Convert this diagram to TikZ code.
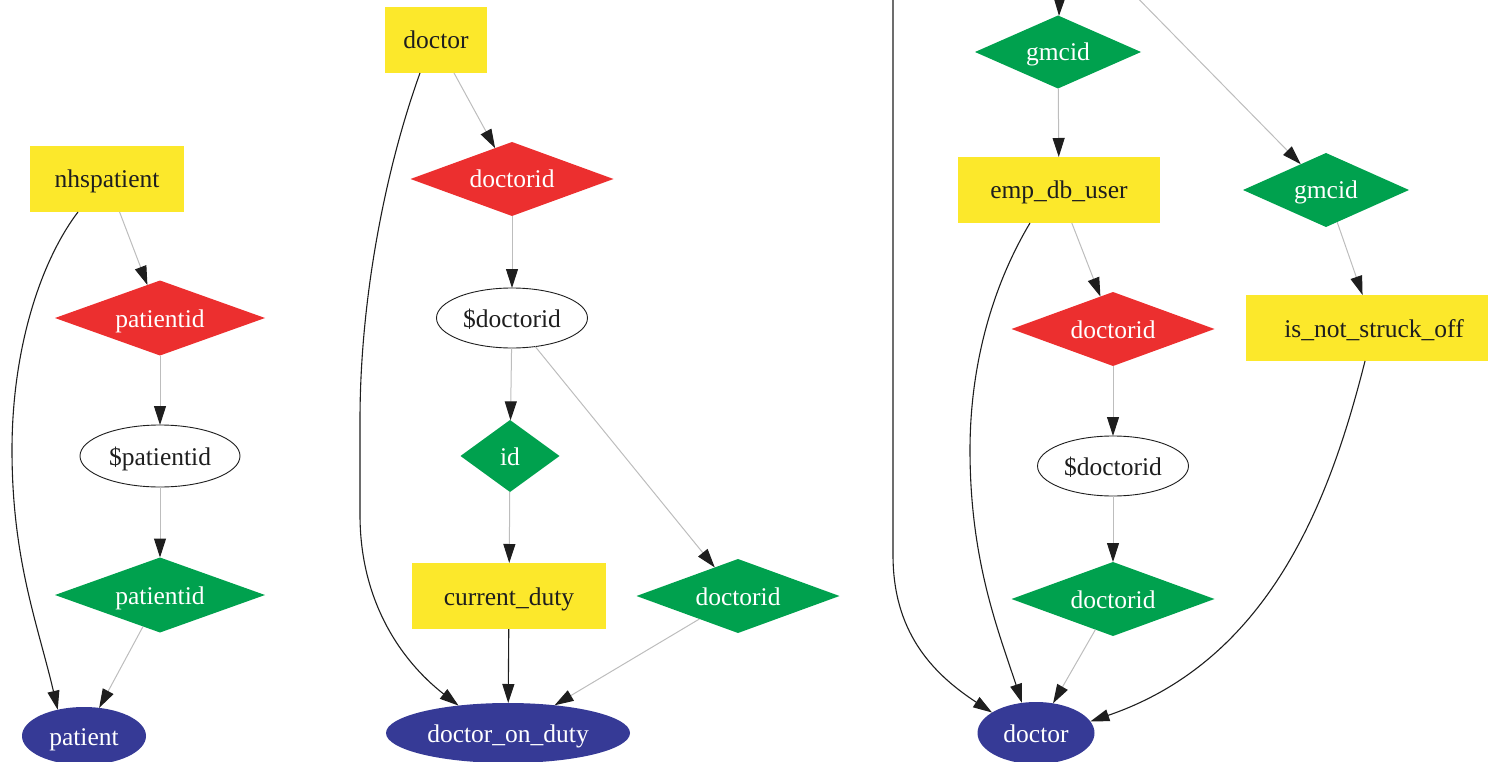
\documentclass[tikz,border=0pt]{standalone}
\usepackage{fontspec}
\setmainfont{Liberation Serif}
\usetikzlibrary{shapes.geometric,arrows.meta,calc}
\definecolor{tblyellow}{HTML}{FCE82B}
\definecolor{keyred}{HTML}{EC2F2F}
\definecolor{keygreen}{HTML}{00A14E}
\definecolor{entblue}{HTML}{363A96}
\definecolor{edgegray}{HTML}{BDBDBD}
\definecolor{ink}{HTML}{1E1E1E}
\tikzset{
  every node/.style={font=\fontsize{25.5}{30}\selectfont, inner sep=0pt, outer sep=0pt,
    text height=22pt, text depth=4pt},
  tbl/.style={rectangle, fill=tblyellow, text=ink, minimum height=66pt},
  pkey/.style={diamond, fill=keyred, text=white},
  fkey/.style={diamond, fill=keygreen, text=white},
  var/.style={ellipse, draw=ink, line width=0.9pt, fill=white, text=ink},
  entity/.style={ellipse, fill=entblue, text=white},
  tip/.style={-{Triangle[length=19pt,width=12pt,color=ink]}},
  lnk/.style={draw=edgegray, line width=1pt, tip},
  flow/.style={draw=ink, line width=1.1pt, tip},
}
\begin{document}
\begin{tikzpicture}[x=1pt,y=-1pt]
\useasboundingbox (0,0) rectangle (1488,762);
\clip (0,0) rectangle (1488,762);

% ---- nhspatient -> patient
\node[tbl, minimum width=154pt] (nhs) at (107,179) {nhspatient};
\node[pkey, minimum width=210pt, minimum height=75pt, aspect=2.8] (pidr) at (160,318) {patientid};
\node[var, minimum width=160pt, minimum height=62pt] (pidv) at (160,456) {\$patientid};
\node[fkey, minimum width=210pt, minimum height=75pt, aspect=2.8] (pidg) at (160,595) {patientid};
\node[entity, minimum width=124pt, minimum height=58pt] (patient) at (84,736) {patient};

\draw[lnk] (nhs) -- (pidr);
\draw[lnk] (pidr) -- (pidv);
\draw[lnk] (pidv) -- (pidg);
\draw[lnk] (pidg) -- (patient);
\draw[flow] ($(nhs.south)+(-29,0)$) .. controls (40,262) and (12,350) .. (12,450)
  .. controls (12,560) and (38,625) .. (patient.135);

% ---- doctor -> doctor_on_duty
\node[tbl, minimum width=102pt] (doc) at (436,40) {doctor};
\node[pkey, minimum width=203pt, minimum height=74pt, aspect=2.75] (didr) at (512,179) {doctorid};
\node[var, minimum width=151pt, minimum height=60pt] (didv) at (512,318) {\$doctorid};
\node[fkey, minimum width=99pt, minimum height=72pt, aspect=1.375] (idg) at (510,456) {id};
\node[tbl, minimum width=194pt] (duty) at (509,596) {current\_duty};
\node[fkey, minimum width=203pt, minimum height=74pt, aspect=2.75] (didg) at (738,596) {doctorid};
\node[entity, minimum width=244pt, minimum height=60pt] (dod) at (508,733) {doctor\_on\_duty};

\draw[lnk] (doc) -- (didr);
\draw[lnk] (didr) -- (didv);
\draw[lnk] (didv) -- (idg);
\draw[lnk] (didv) -- (didg);
\draw[lnk] (idg) -- (duty);
\draw[flow] (duty) -- (dod);
\draw[lnk] (didg) -- (dod);
\draw[flow] ($(doc.south)+(-16,0)$) .. controls (385,170) and (360,300) .. (360,420)
  -- (360,515) .. controls (360,600) and (400,660) .. (dod.151);

% ---- emp_db_user / is_not_struck_off -> doctor
\coordinate (inA) at (893,-20);
\coordinate (inB) at (1060,-20);
\coordinate (inC) at (1120,-20);
\node[fkey, minimum width=166pt, minimum height=73pt, aspect=2.27] (gmc) at (1058,52) {gmcid};
\node[tbl, minimum width=202pt] (emp) at (1059,190) {emp\_db\_user};
\node[fkey, minimum width=166pt, minimum height=74pt, aspect=2.24] (gmc2) at (1326,190) {gmcid};
\node[pkey, minimum width=203pt, minimum height=74pt, aspect=2.75] (didr3) at (1113,329) {doctorid};
\node[tbl, minimum width=256pt] (nso) at (1374,328) {is\_not\_struck\_off};
\node[var, minimum width=151pt, minimum height=60pt] (didv3) at (1113,466) {\$doctorid};
\node[fkey, minimum width=203pt, minimum height=74pt, aspect=2.75] (didg3) at (1113,599) {doctorid};
\node[entity, minimum width=117pt, minimum height=62pt] (doc3) at (1036,733) {doctor};

\draw[flow] (inB) -- (gmc);
\draw[lnk] (inC) -- (gmc2);
\draw[lnk] (gmc) -- (emp);
\draw[lnk] (emp) -- (didr3);
\draw[lnk] (didr3) -- (didv3);
\draw[lnk] (didv3) -- (didg3);
\draw[lnk] (didg3) -- (doc3);
\draw[lnk] (gmc2) -- (nso);
\draw[flow] (inA) -- (893,555) .. controls (893,630) and (930,672) .. (doc3.155);
\draw[flow] ($(emp.south)+(-29,0)$) .. controls (990,290) and (970,370) .. (970,450)
  .. controls (970,560) and (998,630) .. (doc3.115);
\draw[flow] ($(nso.south)+(-9,0)$) .. controls (1330,500) and (1270,660) .. (doc3.12);
\end{tikzpicture}
\end{document}
